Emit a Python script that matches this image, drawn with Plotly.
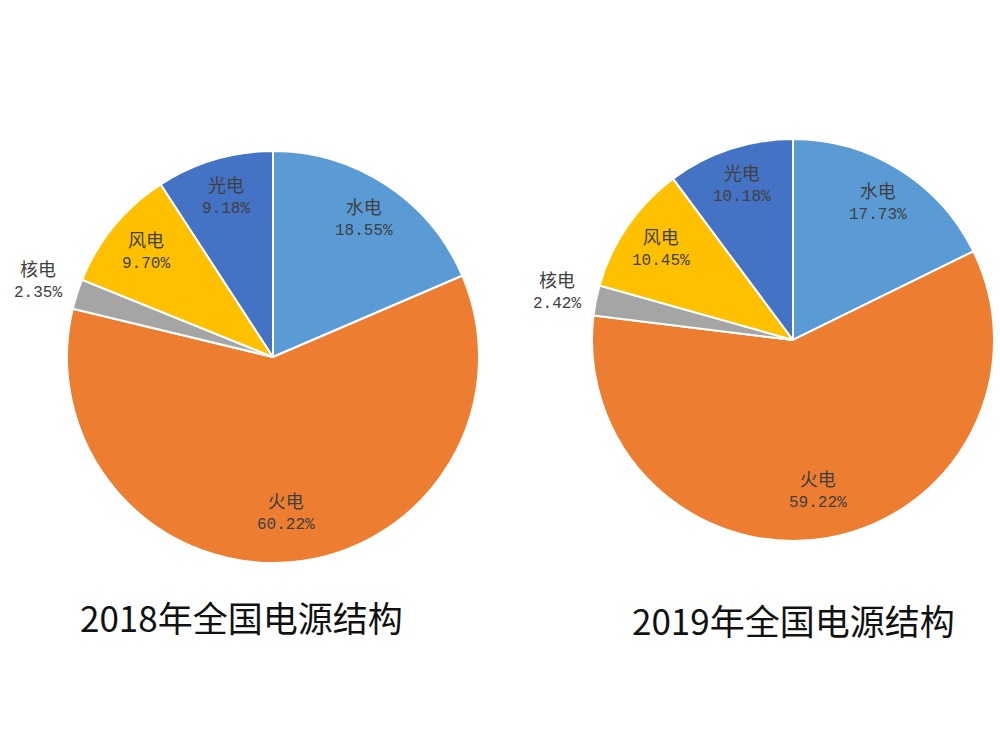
import math
import plotly.graph_objects as go

labels = ["水电", "火电", "核电", "风电", "光电"]
values_2018 = [18.55, 60.22, 2.35, 9.70, 9.18]
values_2019 = [17.73, 59.22, 2.42, 10.45, 10.18]
colors = ["#5B9BD5", "#ED7D31", "#A5A5A5", "#FFC000", "#4472C4"]
titles = ["2018年全国电源结构", "2019年全国电源结构"]
# radial position of each label, as a fraction of the radius (outside for the small slice)
label_radius = [0.80, 0.76, 1.20, 0.80, 0.81]

W, H = 1000, 750
pies = [
    dict(vals=values_2018, dom=dict(x=[0.067, 0.479], y=[0.249, 0.799]), title=titles[0], tx=241, ty=616),
    dict(vals=values_2019, dom=dict(x=[0.592, 0.994], y=[0.2787, 0.8147]), title=titles[1], tx=793, ty=619),
]

fig = go.Figure()
for p in pies:
    vals, dom = p["vals"], p["dom"]
    fig.add_trace(go.Pie(
        labels=labels, values=vals, sort=False, direction="clockwise", rotation=0,
        marker=dict(colors=colors, line=dict(color="white", width=2)),
        textinfo="none", automargin=False, showlegend=False, domain=dom,
        hoverinfo="label+value",
    ))
    # pie geometry (plotly fits the circle into the domain)
    cx = (dom["x"][0] + dom["x"][1]) / 2 * W
    cy = (dom["y"][0] + dom["y"][1]) / 2 * H
    r = min((dom["x"][1] - dom["x"][0]) * W, (dom["y"][1] - dom["y"][0]) * H) / 2
    total = sum(vals)
    cum = 0.0
    for lab, v, f in zip(labels, vals, label_radius):
        th = 2 * math.pi * (cum + v / 2) / total
        cum += v
        px = cx + f * r * math.sin(th)
        py = cy + f * r * math.cos(th)
        fig.add_annotation(
            x=px / W, y=py / H, xref="paper", yref="paper", xanchor="center", yanchor="middle",
            text=f"<span style='font-size:18px'>{lab}</span><br>{v:.2f}%",
            showarrow=False,
            font=dict(family="Liberation Mono, Noto Sans CJK SC", size=16, color="#404040"),
        )
    fig.add_annotation(
        x=p["tx"] / W, y=1 - p["ty"] / H, xref="paper", yref="paper", xanchor="center", yanchor="middle",
        text=p["title"], showarrow=False,
        font=dict(family="Noto Sans CJK SC", size=35, color="#111111"),
    )

fig.update_layout(width=W, height=H, margin=dict(l=0, r=0, t=0, b=0),
                  paper_bgcolor="white", plot_bgcolor="white")
fig.write_html("out.html")
